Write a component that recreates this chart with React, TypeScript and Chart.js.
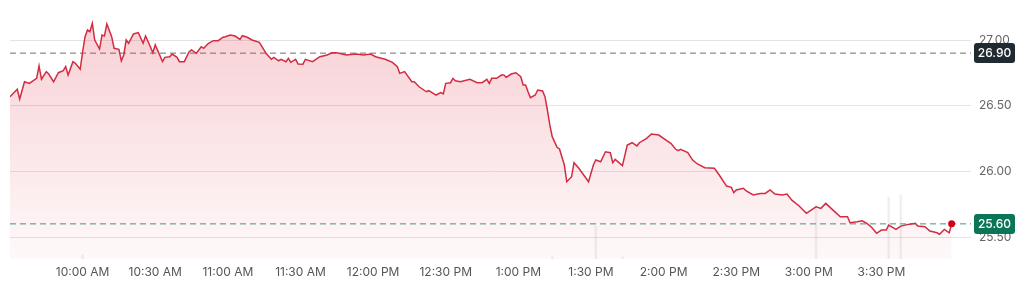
import React, { useEffect, useRef } from "react";
import { Chart, registerables } from "chart.js";

Chart.register(...registerables);

// minutes after the 9:30 AM open
const minutesFromOpen = [
  0, 3, 4, 6, 8, 11, 12, 13, 15, 16, 18, 20, 22, 23, 24, 26, 27, 29, 30, 31, 32, 33, 34, 35, 37, 38, 39, 40, 42, 43,
  45, 46, 47, 48, 49, 51, 53, 55, 56, 58, 59, 60, 63, 64, 66, 67, 69, 70, 72, 74, 75, 77, 79, 80, 82, 84, 86, 88, 89, 91,
  93, 95, 96, 98, 100, 103, 106, 108, 109, 111, 112, 114, 115, 116, 118, 119, 121, 122, 125, 128, 131, 133, 135, 139, 143, 146, 149, 151, 155, 158,
  160, 161, 163, 166, 167, 169, 172, 173, 176, 178, 179, 180, 182, 183, 184, 186, 190, 193, 195, 197, 198, 199, 201, 203, 204, 205, 207, 209, 211, 212,
  213, 214, 215, 217, 218, 220, 221, 222, 223, 224, 226, 227, 229, 230, 232, 233, 235, 237, 239, 241, 242, 244, 246, 248, 249, 250, 253, 255, 257, 259,
  260, 263, 265, 268, 271, 273, 275, 276, 277, 280, 282, 284, 287, 291, 293, 296, 298, 299, 300, 303, 304, 307, 310, 312, 314, 316, 319, 321, 323, 326,
  329, 332, 333, 335, 337, 340, 343, 346, 347, 350, 352, 354, 356, 358, 360, 362, 363, 366, 368, 371, 374, 375, 378, 380, 383, 384, 386, 388, 389,
];

const prices = [
  26.568, 26.625, 26.551, 26.682, 26.67, 26.708, 26.804, 26.701, 26.759, 26.741, 26.682, 26.751, 26.766, 26.797, 26.733, 26.835, 26.823, 26.777, 26.91, 27.025,
  27.076, 27.063, 27.127, 27.0, 26.931, 27.038, 27.03, 27.122, 27.025, 26.937, 26.929, 26.84, 26.886, 27.0, 26.975, 27.046, 27.056, 26.975, 27.03, 26.949,
  26.903, 26.962, 26.835, 26.868, 26.873, 26.893, 26.868, 26.835, 26.835, 26.911, 26.924, 26.899, 26.949, 26.937, 26.975, 26.995, 26.995, 27.021, 27.025, 27.038,
  27.03, 27.005, 27.033, 27.021, 27.0, 26.982, 26.893, 26.853, 26.868, 26.842, 26.853, 26.835, 26.861, 26.83, 26.853, 26.817, 26.815, 26.853, 26.835, 26.873,
  26.886, 26.903, 26.903, 26.886, 26.893, 26.886, 26.893, 26.873, 26.853, 26.83, 26.797, 26.746, 26.759, 26.682, 26.682, 26.644, 26.606, 26.614, 26.581, 26.599,
  26.589, 26.67, 26.675, 26.708, 26.69, 26.682, 26.701, 26.675, 26.675, 26.701, 26.67, 26.708, 26.708, 26.733, 26.733, 26.716, 26.741, 26.751, 26.72, 26.657,
  26.657, 26.606, 26.561, 26.581, 26.619, 26.612, 26.568, 26.467, 26.353, 26.264, 26.183, 26.17, 26.048, 25.921, 25.959, 26.066, 26.023, 25.972, 25.921, 26.048,
  26.086, 26.073, 26.149, 26.142, 26.066, 26.091, 26.043, 26.2, 26.218, 26.193, 26.218, 26.251, 26.284, 26.276, 26.238, 26.213, 26.168, 26.157, 26.168, 26.142,
  26.086, 26.056, 26.027, 26.023, 25.972, 25.888, 25.878, 25.837, 25.858, 25.871, 25.852, 25.82, 25.832, 25.832, 25.858, 25.827, 25.82, 25.827, 25.781, 25.736,
  25.68, 25.718, 25.73, 25.718, 25.756, 25.705, 25.654, 25.654, 25.609, 25.616, 25.624, 25.604, 25.573, 25.528, 25.553, 25.553, 25.591, 25.558, 25.583, 25.596,
  25.604, 25.583, 25.578, 25.545, 25.532, 25.52, 25.558, 25.532, 25.6,
];

const volumeMinutes = [30, 224, 253, 242, 333, 363, 368];
const volumes = [17, 10, 10, 138, 230, 259, 268];

const prevClose = 26.9;
const lastPrice = 25.6;
const yTicks = [25.5, 26.0, 26.5, 27.0];
const xTickMinutes = [30, 60, 90, 120, 150, 180, 210, 240, 270, 300, 330, 360];
const openMinuteOfDay = 570;
const sessionEnd = 397;

function formatTime(m: number): string {
  const total = openMinuteOfDay + m;
  const h = Math.floor(total / 60);
  const mm = total % 60;
  const suffix = h < 12 ? "AM" : "PM";
  const h12 = h % 12 === 0 ? 12 : h % 12;
  return `${h12}:${mm.toString().padStart(2, "0")} ${suffix}`;
}

export default function App() {
  const ref = useRef<HTMLCanvasElement>(null);

  useEffect(() => {
    const canvas = ref.current;
    if (!canvas) return;
    Chart.defaults.font.family = "Inter, 'Noto Sans', sans-serif";

    const badgePlugin = {
      id: "priceBadges",
      afterDraw(chart: any) {
        const c = chart.ctx;
        const ys = chart.scales.y;
        const area = chart.chartArea;
        const drawBadge = (value: number, bg: string) => {
          const py = ys.getPixelForValue(value);
          const x = area.right + 3;
          const w = 41;
          const h = 20;
          const top = Math.round(py - h / 2);
          c.save();
          c.fillStyle = bg;
          c.beginPath();
          (c as any).roundRect(x, top, w, h, 3);
          c.fill();
          c.fillStyle = "#ffffff";
          c.font = "500 12px Inter, 'Noto Sans', sans-serif";
          c.textAlign = "center";
          c.textBaseline = "middle";
          c.fillText(value.toFixed(2), x + w / 2, top + h / 2 + 0.5);
          c.restore();
        };
        drawBadge(prevClose, "#1f2b30");
        drawBadge(lastPrice, "#0b7657");
      },
    };

    const priceData = minutesFromOpen.map((m, i) => ({ x: m, y: prices[i] }));
    const volData = volumeMinutes.map((m, i) => ({ x: m, y: volumes[i] }));

    const chart = new Chart(canvas, {
      type: "line",
      data: {
        datasets: [
          {
            type: "line",
            data: priceData,
            borderColor: "#d22c43",
            borderWidth: 1.5,
            tension: 0,
            fill: "start",
            backgroundColor: (context: any) => {
              const { chart: ch } = context;
              const { ctx, chartArea } = ch;
              if (!chartArea) return "rgba(224,52,72,0.1)";
              const g = ctx.createLinearGradient(0, chartArea.top, 0, chartArea.bottom);
              g.addColorStop(0, "rgba(224,52,72,0.23)");
              g.addColorStop(1, "rgba(224,52,72,0.03)");
              return g;
            },
            pointRadius: priceData.map((_, i) => (i === priceData.length - 1 ? 3.5 : 0)),
            pointBackgroundColor: "#d0021b",
            pointBorderWidth: 0,
            order: 1,
          },
          {
            type: "line",
            data: [
              { x: 0, y: prevClose },
              { x: sessionEnd, y: prevClose },
            ],
            borderColor: "#707070",
            borderWidth: 1,
            borderDash: [6, 4],
            pointRadius: 0,
            fill: false,
            order: 2,
          },
          {
            type: "line",
            data: [
              { x: 0, y: lastPrice },
              { x: sessionEnd, y: lastPrice },
            ],
            borderColor: "#3c9c84",
            borderWidth: 1,
            borderDash: [6, 4],
            pointRadius: 0,
            fill: false,
            order: 2,
          },
          {
            type: "bar",
            data: volData,
            yAxisID: "yv",
            backgroundColor: "rgba(0,0,0,0.06)",
            barThickness: 2,
            order: 3,
          } as any,
        ],
      },
      options: {
        animation: false,
        responsive: true,
        maintainAspectRatio: false,
        layout: { padding: { top: 20, left: 10, right: 0, bottom: 0 } },
        plugins: { legend: { display: false }, tooltip: { enabled: false } },
        scales: {
          x: {
            type: "linear",
            offset: false,
            min: 0,
            max: sessionEnd,
            grid: { display: false, offset: false, drawTicks: false },
            border: { display: false },
            afterBuildTicks: (scale: any) => {
              scale.ticks = xTickMinutes.map((v) => ({ value: v }));
            },
            afterFit: (scale: any) => {
              scale.height = 28;
            },
            ticks: {
              autoSkip: false,
              maxRotation: 0,
              padding: 6,
              color: "#555555",
              font: { size: 12 },
              callback: (v: any) => formatTime(Number(v)),
            },
          },
          y: {
            position: "right",
            min: 25.3325,
            max: 27.1523,
            grid: { color: "#e4e4e4", drawTicks: false },
            border: { display: false },
            afterBuildTicks: (scale: any) => {
              scale.ticks = yTicks.map((v) => ({ value: v }));
            },
            afterFit: (scale: any) => {
              scale.width = 53;
            },
            ticks: {
              padding: 8,
              color: "#666666",
              font: { size: 12 },
              callback: (v: any) => Number(v).toFixed(2),
            },
          },
          yv: {
            display: false,
            min: 0,
            max: 1000,
          },
        },
      },
      plugins: [badgePlugin],
    } as any);

    return () => chart.destroy();
  }, []);

  return (
    <div style={{ position: "fixed", left: 0, top: 0, width: 1024, height: 287, background: "#fff" }}>
      <canvas ref={ref} />
    </div>
  );
}
